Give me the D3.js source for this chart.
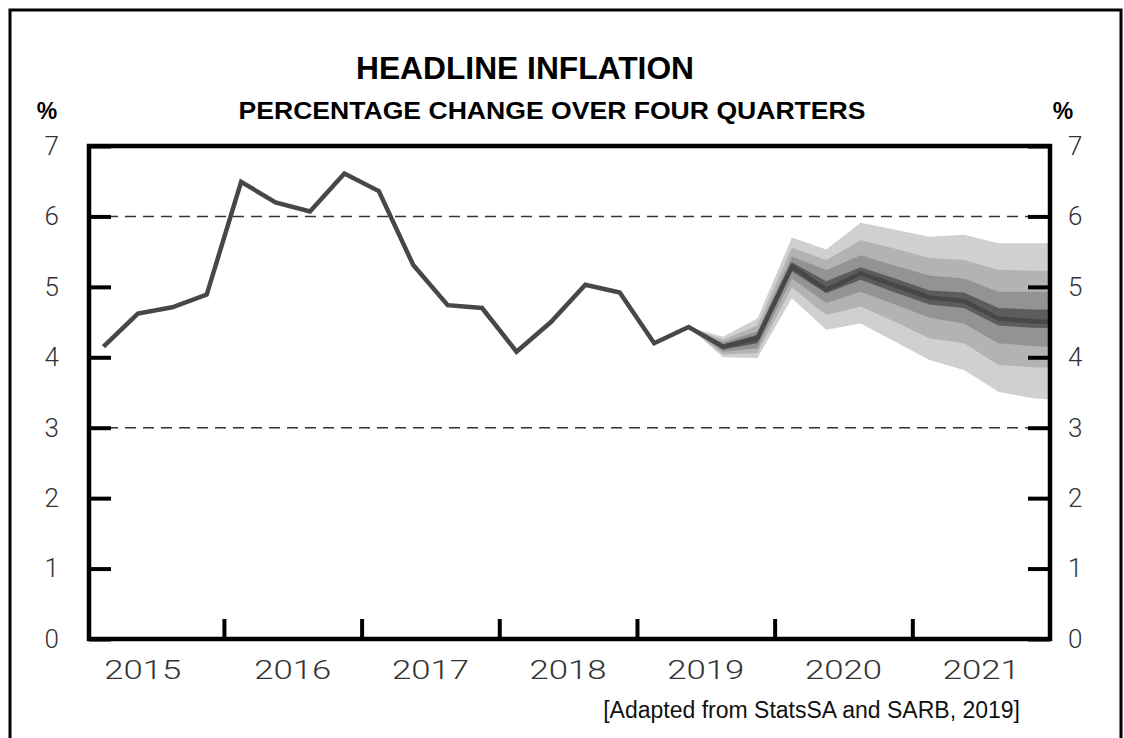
<!DOCTYPE html>
<html>
<head>
<meta charset="utf-8">
<script src="https://cdn.jsdelivr.net/npm/d3@7"></script>
<style>
  body { margin: 0; background: #fff; }
  svg { display: block; }
</style>
</head>
<body>
<svg id="chart" width="1124" height="738"></svg>
<script>
// years on the x axis and quarterly observations (mid-quarter)
const years = [2015, 2016, 2017, 2018, 2019, 2020, 2021]
const quarters = ['2015Q1','2015Q2','2015Q3','2015Q4','2016Q1','2016Q2','2016Q3','2016Q4',
  '2017Q1','2017Q2','2017Q3','2017Q4','2018Q1','2018Q2','2018Q3','2018Q4',
  '2019Q1','2019Q2','2019Q3','2019Q4','2020Q1','2020Q2','2020Q3','2020Q4',
  '2021Q1','2021Q2','2021Q3','2021Q4','2022Q1']

// headline inflation, actual then central forecast path
const inflation = [4.15, 4.62, 4.71, 4.89, 6.49, 6.20, 6.07, 6.61,
  6.36, 5.31, 4.74, 4.70, 4.08, 4.50, 5.03, 4.92,
  4.20, 4.43, 4.15, 4.27, 5.29, 4.96, 5.19, 5.02,
  4.85, 4.80, 4.55, 4.51, 4.49]

// fan chart bands, starting at 2019Q2
const fanStart = 17
const outerLo = [4.43, 4.00, 3.99, 4.84, 4.39, 4.48, 4.22, 3.96, 3.82, 3.51, 3.42, 3.38]
const outerHi = [4.43, 4.29, 4.55, 5.70, 5.53, 5.91, 5.81, 5.71, 5.74, 5.62, 5.62, 5.62]
const midLo   = [4.43, 4.04, 4.06, 4.99, 4.60, 4.72, 4.50, 4.27, 4.20, 3.89, 3.86, 3.84]
const midHi   = [4.43, 4.25, 4.45, 5.56, 5.38, 5.66, 5.54, 5.41, 5.38, 5.24, 5.23, 5.23]
const innerLo = [4.43, 4.08, 4.13, 5.12, 4.77, 4.93, 4.75, 4.56, 4.48, 4.20, 4.16, 4.14]
const innerHi = [4.43, 4.21, 4.37, 5.43, 5.24, 5.45, 5.30, 5.16, 5.12, 4.93, 4.93, 4.93]
const coreLo  = [4.43, 4.11, 4.20, 5.22, 4.91, 5.10, 4.92, 4.75, 4.70, 4.45, 4.42, 4.41]
const coreHi  = [4.43, 4.18, 4.32, 5.35, 5.08, 5.28, 5.12, 4.95, 4.92, 4.70, 4.68, 4.68]

const yTicks = [0, 1, 2, 3, 4, 5, 6, 7]
const targetRange = [3, 6]

function quarterTime(q) {
  return +q.slice(0, 4) + (+q.slice(5) - 0.5) / 4
}

const svg = d3.select('#chart')
const x = d3.scaleLinear().domain([2015.02, 2022]).range([89, 1050])
const y = d3.scaleLinear().domain([0, 7]).range([639, 146])

// outer frame
svg.append('rect')
  .attr('x', 10).attr('y', 10)
  .attr('width', 1111).attr('height', 760)
  .attr('fill', 'none')
  .attr('stroke', 'black')
  .attr('stroke-width', 3)

// titles
svg.append('text')
  .attr('x', 525).attr('y', 79)
  .attr('text-anchor', 'middle')
  .attr('font-family', 'Liberation Sans, Arial, sans-serif')
  .attr('font-weight', 'bold')
  .attr('font-size', 31)
  .attr('textLength', 338)
  .attr('lengthAdjust', 'spacingAndGlyphs')
  .text('HEADLINE INFLATION')

svg.append('text')
  .attr('x', 552).attr('y', 119)
  .attr('text-anchor', 'middle')
  .attr('font-family', 'Liberation Sans, Arial, sans-serif')
  .attr('font-weight', 'bold')
  .attr('font-size', 24)
  .attr('textLength', 627)
  .attr('lengthAdjust', 'spacingAndGlyphs')
  .text('PERCENTAGE CHANGE OVER FOUR QUARTERS')

svg.selectAll('.unit')
  .data([47, 1063])
  .enter()
  .append('text')
  .attr('class', 'unit')
  .attr('x', d => d).attr('y', 119)
  .attr('text-anchor', 'middle')
  .attr('font-family', 'Liberation Sans, Arial, sans-serif')
  .attr('font-weight', 'bold')
  .attr('font-size', 23)
  .text('%')

// clip for plot area
svg.append('clipPath').attr('id', 'plot-clip')
  .append('rect')
  .attr('x', x.range()[0]).attr('y', y.range()[1])
  .attr('width', x.range()[1] - x.range()[0])
  .attr('height', y.range()[0] - y.range()[1])

const plot = svg.append('g').attr('clip-path', 'url(#plot-clip)')

// fan bands, widest first
const fanQuarters = quarters.slice(fanStart)
const bands = [
  { lo: outerLo, hi: outerHi, color: '#d0d0d0' },
  { lo: midLo, hi: midHi, color: '#b3b3b3' },
  { lo: innerLo, hi: innerHi, color: '#939393' },
  { lo: coreLo, hi: coreHi, color: '#5c5c5c' }
]
bands.forEach(b => {
  const area = d3.area()
    .x((d, i) => x(quarterTime(d)))
    .y0((d, i) => y(b.lo[i]))
    .y1((d, i) => y(b.hi[i]))
  plot.append('path')
    .datum(fanQuarters)
    .attr('fill', b.color)
    .attr('d', area)
})

// dashed target range
plot.selectAll('.target')
  .data(targetRange)
  .enter()
  .append('line')
  .attr('class', 'target')
  .attr('x1', x.range()[0]).attr('x2', x.range()[1])
  .attr('y1', d => y(d)).attr('y2', d => y(d))
  .attr('stroke', '#333')
  .attr('stroke-width', 1.5)
  .attr('stroke-dasharray', '11,7')

// inflation line
const line = d3.line()
  .x((d, i) => x(quarterTime(quarters[i])))
  .y(d => y(d))
plot.append('path')
  .datum(inflation)
  .attr('fill', 'none')
  .attr('stroke', '#474747')
  .attr('stroke-width', 4.5)
  .attr('stroke-linejoin', 'miter')
  .attr('d', line)

// axes
const tickFont = g => g.selectAll('text')
  .attr('font-family', 'Roboto, Liberation Sans, sans-serif')
  .attr('font-weight', 300)
  .attr('font-size', 26)
  .attr('fill', '#333')

const leftAxis = svg.append('g')
  .attr('transform', `translate(${x.range()[0]},0)`)
  .call(d3.axisLeft(y).tickValues(yTicks).tickSize(-22).tickSizeOuter(0).tickPadding(30).tickFormat(d3.format('d')))
leftAxis.call(tickFont)

const rightAxis = svg.append('g')
  .attr('transform', `translate(${x.range()[1]},0)`)
  .call(d3.axisRight(y).tickValues(yTicks).tickSize(-22).tickSizeOuter(0).tickPadding(18).tickFormat(d3.format('d')))
rightAxis.call(tickFont)

const bottomAxis = svg.append('g')
  .attr('transform', `translate(0,${y.range()[0]})`)
  .call(d3.axisBottom(x).tickValues(years.slice(1)).tickSize(-20).tickSizeOuter(0).tickFormat(''))

svg.selectAll('.tick line')
  .attr('stroke', 'black')
  .attr('stroke-width', 4)
svg.selectAll('.domain').remove()

// plot frame
svg.append('rect')
  .attr('x', x.range()[0]).attr('y', y.range()[1])
  .attr('width', x.range()[1] - x.range()[0])
  .attr('height', y.range()[0] - y.range()[1])
  .attr('fill', 'none')
  .attr('stroke', 'black')
  .attr('stroke-width', 4.5)

// year labels, centred in each year
svg.selectAll('.year')
  .data(years)
  .enter()
  .append('text')
  .attr('class', 'year')
  .attr('x', d => x(d === 2015 ? d + 0.41 : d + 0.5))
  .attr('y', 679)
  .attr('text-anchor', 'middle')
  .attr('font-family', 'Roboto, Liberation Sans, sans-serif')
  .attr('font-weight', 300)
  .attr('font-size', 26)
  .attr('fill', '#333')
  .attr('textLength', 77)
  .attr('lengthAdjust', 'spacingAndGlyphs')
  .text(d => d)

// source note
svg.append('text')
  .attr('x', 1020).attr('y', 718)
  .attr('text-anchor', 'end')
  .attr('font-family', 'Liberation Sans, Arial, sans-serif')
  .attr('font-size', 23)
  .attr('fill', '#111')
  .text('[Adapted from StatsSA and SARB, 2019]')
</script>
</body>
</html>
